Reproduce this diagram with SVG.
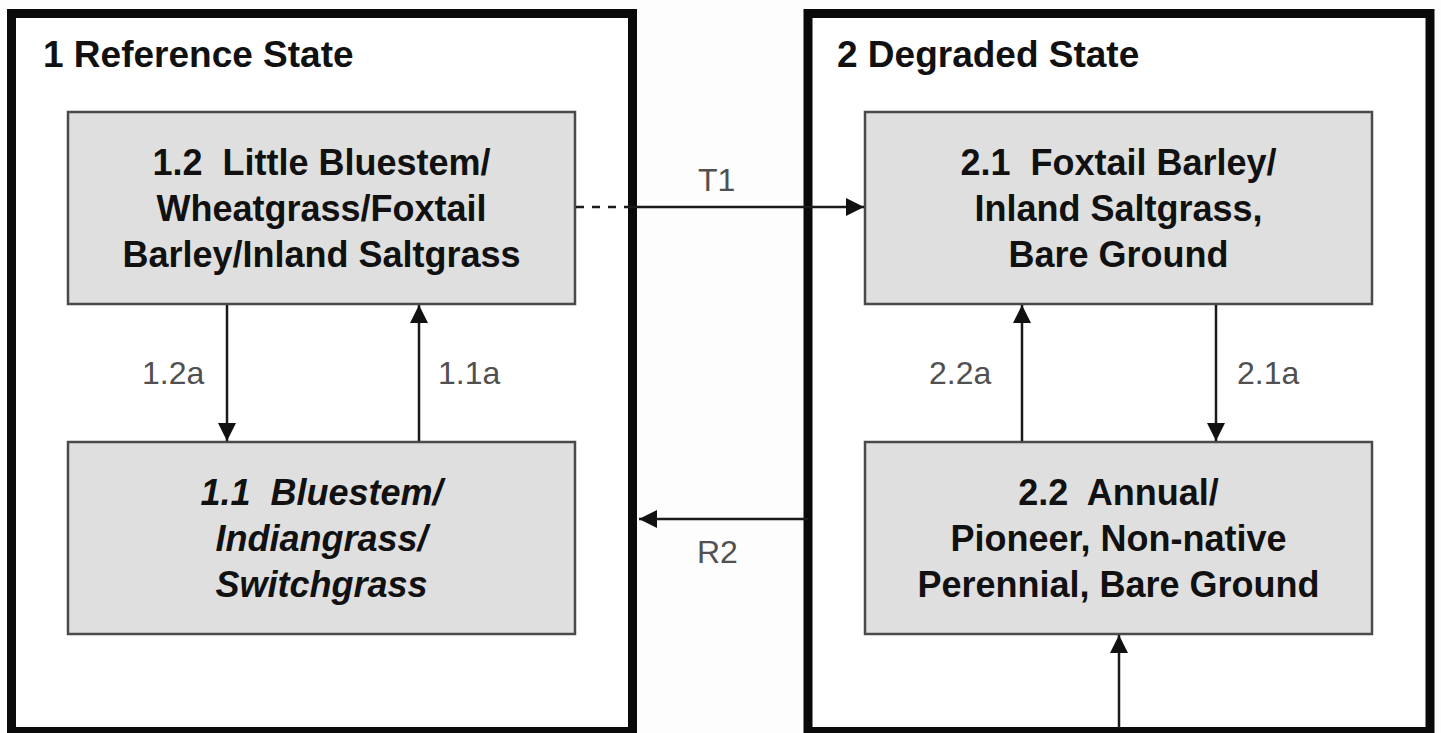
<svg xmlns="http://www.w3.org/2000/svg" width="1441" height="733" viewBox="0 0 1441 733">
<defs>
<marker id="ah" markerUnits="userSpaceOnUse" markerWidth="20" markerHeight="18" refX="18" refY="9" orient="auto">
<path d="M0,0 L18,9 L0,18 Z" fill="#111"/>
</marker>
<style>
.state{fill:#fff;stroke:#0a0a0a;stroke-width:9}
.node{fill:#dfdfdf;stroke:#4a4a4a;stroke-width:2.5}
.title{font-family:"Liberation Sans",Arial,sans-serif;font-weight:bold;font-size:37px;fill:#111}
.nt{font-family:"Liberation Sans",Arial,sans-serif;font-weight:bold;font-size:36px;fill:#111;text-anchor:middle;white-space:pre}
.nti{font-style:italic}
.lbl{font-family:"Liberation Sans",Arial,sans-serif;font-size:32px;fill:#505050}
.con{fill:none;stroke:#1a1a1a;stroke-width:2.5}
.dash{stroke-dasharray:8 8}
</style>
</defs>
<rect width="1441" height="733" fill="#fdfdfd"/>
<g id="state1">
<rect class="state" x="11.5" y="13.5" width="621" height="718"/>
<text class="title" x="43" y="67">1 Reference State</text>
</g>
<g id="state2">
<rect class="state" x="808" y="13.5" width="622" height="718"/>
<text class="title" x="837" y="67">2 Degraded State</text>
</g>
<g id="node-1-2">
<rect class="node" x="68" y="112" width="507" height="192"/>
<text class="nt" x="321.5" y="175" xml:space="preserve">1.2  Little Bluestem/</text>
<text class="nt" x="321.5" y="221">Wheatgrass/Foxtail</text>
<text class="nt" x="321.5" y="267">Barley/Inland Saltgrass</text>
</g>
<g id="node-1-1">
<rect class="node" x="68" y="442" width="507" height="192"/>
<text class="nt nti" x="321.5" y="505" xml:space="preserve">1.1  Bluestem/</text>
<text class="nt nti" x="321.5" y="551">Indiangrass/</text>
<text class="nt nti" x="321.5" y="597">Switchgrass</text>
</g>
<g id="node-2-1">
<rect class="node" x="865" y="112" width="507" height="192"/>
<text class="nt" x="1118.5" y="175" xml:space="preserve">2.1  Foxtail Barley/</text>
<text class="nt" x="1118.5" y="221">Inland Saltgrass,</text>
<text class="nt" x="1118.5" y="267">Bare Ground</text>
</g>
<g id="node-2-2">
<rect class="node" x="865" y="442" width="507" height="192"/>
<text class="nt" x="1118.5" y="505" xml:space="preserve">2.2  Annual/</text>
<text class="nt" x="1118.5" y="551">Pioneer, Non-native</text>
<text class="nt" x="1118.5" y="597">Perennial, Bare Ground</text>
</g>
<g id="connectors">
<path class="con dash" d="M576,207 H628"/>
<path class="con" d="M628,207 H864" marker-end="url(#ah)"/>
<text class="lbl" x="698" y="191">T1</text>
<path class="con" d="M808,519 H639" marker-end="url(#ah)"/>
<text class="lbl" x="697" y="563">R2</text>
<path class="con" d="M227,305 V441" marker-end="url(#ah)"/>
<text class="lbl" x="142" y="384">1.2a</text>
<path class="con" d="M419,441 V305" marker-end="url(#ah)"/>
<text class="lbl" x="438" y="384">1.1a</text>
<path class="con" d="M1022,441 V305" marker-end="url(#ah)"/>
<text class="lbl" x="929" y="384">2.2a</text>
<path class="con" d="M1216,305 V441" marker-end="url(#ah)"/>
<text class="lbl" x="1237" y="384">2.1a</text>
<path class="con" d="M1119,728 V635" marker-end="url(#ah)"/>
</g>
</svg>
